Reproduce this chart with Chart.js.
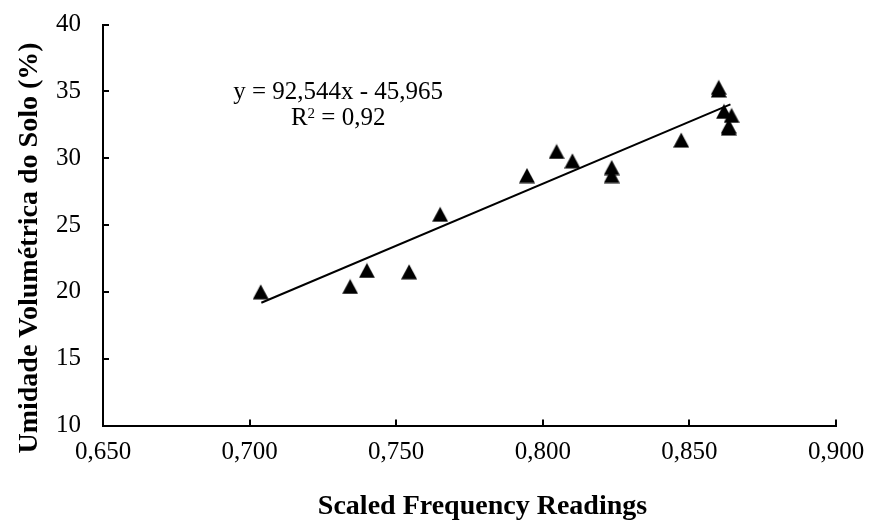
<!DOCTYPE html>
<html>
<head>
<meta charset="utf-8">
<script src="https://cdn.jsdelivr.net/npm/chart.js@4.4.1/dist/chart.umd.min.js"></script>
<style>
  html, body { margin: 0; padding: 0; background: #fff; }
  #wrap { width: 869px; height: 525px; }
</style>
</head>
<body>
<div id="wrap"><canvas id="chart_soilMoisture"></canvas></div>
<script>
// values
var freqReadings = [0.7038, 0.7343, 0.7400, 0.7544, 0.7650, 0.7946, 0.8047, 0.8101, 0.8235, 0.8235,
                    0.8472, 0.8600, 0.8600, 0.8618, 0.8644, 0.8634, 0.8634];
var soilMoisture = [20.0, 20.4, 21.6, 21.5, 25.8, 28.7, 30.5, 29.8, 29.3, 28.7,
                    31.35, 35.3, 35.1, 33.5, 33.2, 32.4, 32.25];
var trendX = [0.704, 0.864];
var trendY = [19.18, 34.03];
var equationText = 'y = 92,544x - 45,965';
var r2Text = ['R', '2', ' = 0,92'];   // base, superscript, rest
var xTitle = 'Scaled Frequency Readings';
var yTitle = 'Umidade Volum\u00e9trica do Solo (%)';

var serif = "'Liberation Serif', 'Times New Roman', serif";

// triangle marker centred on its bounding box (like Excel)
var tri = document.createElement('canvas');
tri.width = 16; tri.height = 16;
var tctx = tri.getContext('2d');
tctx.fillStyle = '#000';
tctx.beginPath();
tctx.moveTo(0, 15.5);
tctx.lineTo(16, 15.5);
tctx.lineTo(8, 0.5);
tctx.closePath();
tctx.fill();

var points = freqReadings.map(function (x, i) { return { x: x, y: soilMoisture[i] }; });
var trend = trendX.map(function (x, i) { return { x: x, y: trendY[i] }; });

var chart_soilMoisture = new Chart(document.getElementById('chart_soilMoisture'), {
    type: 'scatter',
    data: {
        datasets: [
            {
                label: 'Medidas',
                data: points,
                pointStyle: tri,
                pointRadius: 8,
                showLine: false
            },
            {
                label: 'Linear',
                data: trend,
                showLine: true,
                borderColor: '#000',
                borderWidth: 2,
                pointRadius: 0
            }
        ]
    },
    options: {
        animation: false,
        responsive: true,
        maintainAspectRatio: false,
        layout: {
            padding: { left: 0, top: 24.5, right: 33, bottom: 0 }
        },
        plugins: {
            legend: { display: false },
            tooltip: { enabled: false }
        },
        scales: {
            x: {
                type: 'linear',
                min: 0.65,
                max: 0.9,
                border: { color: '#000', width: 2 },
                grid: { drawOnChartArea: false, color: '#000', lineWidth: 2, tickLength: -6 },
                ticks: {
                    stepSize: 0.05,
                    color: '#000',
                    padding: 18,
                    maxRotation: 0,
                    font: { family: serif, size: 25 },
                    callback: function (v) { return v.toFixed(3).replace('.', ','); }
                },
                afterFit: function (scale) {
                    scale.height = 99.5;
                    scale.paddingLeft = 0;
                    scale.paddingRight = 0;
                }
            },
            y: {
                type: 'linear',
                min: 10,
                max: 40,
                border: { color: '#000', width: 2 },
                grid: { drawOnChartArea: false, color: '#000', lineWidth: 2, tickLength: -6 },
                ticks: {
                    stepSize: 5,
                    color: '#000',
                    padding: 28,
                    font: { family: serif, size: 25 }
                },
                afterFit: function (scale) {
                    scale.width = 103;
                    scale.paddingTop = 0;
                    scale.paddingBottom = 0;
                }
            }
        }
    },
    plugins: [{
        id: 'whiteBackground',
        beforeDraw: function (chart) {
            var ctx = chart.ctx;
            ctx.save();
            ctx.fillStyle = 'white';
            ctx.fillRect(0, 0, chart.width, chart.height);
            ctx.restore();
        }
    }, {
        id: 'textLabels',
        afterDraw: function (chart) {
            var ctx = chart.ctx;
            var xs = chart.scales.x, ys = chart.scales.y;
            ctx.save();
            ctx.fillStyle = '#000';
            ctx.textBaseline = 'alphabetic';
            // trendline equation, anchored in data space
            var ex = xs.getPixelForValue(0.7302);
            var y1 = ys.getPixelForValue(34.45);
            var y2 = ys.getPixelForValue(32.45);
            ctx.font = '25px ' + serif;
            ctx.textAlign = 'center';
            ctx.fillText(equationText, ex, y1);
            // R² with a real superscript
            ctx.textAlign = 'left';
            var wR = ctx.measureText(r2Text[0]).width;
            var wRest = ctx.measureText(r2Text[2]).width;
            ctx.font = '15px ' + serif;
            var wSup = ctx.measureText(r2Text[1]).width;
            var sx = ex - (wR + wSup + wRest) / 2;
            ctx.font = '25px ' + serif;
            ctx.fillText(r2Text[0], sx, y2);
            ctx.fillText(r2Text[2], sx + wR + wSup, y2);
            ctx.font = '15px ' + serif;
            ctx.fillText(r2Text[1], sx + wR, y2 - 7);
            // axis titles
            ctx.textAlign = 'center';
            ctx.font = 'bold 28px ' + serif;
            ctx.fillText(xTitle, 482.5, 514);
            ctx.translate(36.5, 248);
            ctx.rotate(-Math.PI / 2);
            ctx.fillText(yTitle, 0, 0);
            ctx.restore();
        }
    }]
});
</script>
</body>
</html>
